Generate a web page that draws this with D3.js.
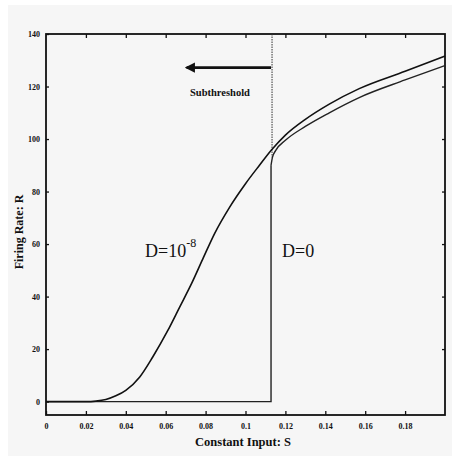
<!DOCTYPE html>
<html>
<head>
<meta charset="utf-8">
<script src="https://cdn.jsdelivr.net/npm/d3@7"></script>
<style>
  body { margin: 0; background: #fff; }
  svg { display: block; }
</style>
</head>
<body>
<svg id="chart"></svg>
<script>
// values
var xTicks = [0, 0.02, 0.04, 0.06, 0.08, 0.1, 0.12, 0.14, 0.16, 0.18];
var xTickLabels = ['0', '0.02', '0.04', '0.06', '0.08', '0.1', '0.12', '0.14', '0.16', '0.18'];
var yTicks = [0, 20, 40, 60, 80, 100, 120, 140];

// D = 1e-8 (noisy) curve
var noisyS = [0, 0.02, 0.025, 0.03, 0.035, 0.04, 0.047, 0.0535, 0.061, 0.067, 0.073, 0.079, 0.0845, 0.092, 0.1, 0.107, 0.113, 0.12, 0.13, 0.142, 0.157, 0.18, 0.2];
var noisyR = [0, 0, 0.2, 0.8, 2.2, 4.3, 9.4, 17, 27, 36, 45, 55, 64, 74, 83, 90, 95.8, 101.5, 107.5, 113.3, 119.2, 125.8, 131.6];

// D = 0 (deterministic) curve: zero below threshold, jump, then rising branch
var threshold = 0.1128;
var detS = [0.1128, 0.1135, 0.115, 0.12, 0.13, 0.142, 0.157, 0.18, 0.2];
var detR = [90, 93, 95.5, 99.5, 104.8, 110, 115.8, 122.5, 128];

var width = 452, height = 456;
var svg = d3.select('#chart').attr('width', width).attr('height', height);

svg.append('rect')
    .attr('x', 8).attr('y', 5)
    .attr('width', width - 8).attr('height', height - 5)
    .attr('fill', '#f6f6f6');

var x = d3.scaleLinear().domain([0, 0.2]).range([46, 445]);
var y = d3.scaleLinear().domain([-5.1, 140]).range([415, 34]);

var ink = '#111';
var font = '"Liberation Serif", "DejaVu Serif", serif';

function styleAxis(g) {
    g.select('.domain').remove();
    g.selectAll('.tick line').attr('stroke', ink).attr('stroke-width', 1.3);
    g.selectAll('text')
        .attr('fill', ink)
        .style('font-family', font)
        .style('font-weight', 'bold')
        .style('font-size', '8px');
}

// frame
svg.append('rect')
    .attr('x', x(0)).attr('y', y(140))
    .attr('width', x(0.2) - x(0)).attr('height', y(-5.1) - y(140))
    .attr('fill', 'none').attr('stroke', ink).attr('stroke-width', 1.8);

svg.append('g')
    .attr('transform', `translate(0, ${y(-5.1)})`)
    .call(d3.axisBottom(x).tickValues(xTicks).tickSizeInner(-4).tickSizeOuter(0).tickPadding(8)
        .tickFormat((d, i) => xTickLabels[i]))
    .call(styleAxis);

svg.append('g')
    .attr('transform', `translate(0, ${y(140)})`)
    .call(d3.axisTop(x).tickValues(xTicks.slice(1)).tickSizeInner(-4).tickSizeOuter(0).tickFormat(''))
    .call(styleAxis);

svg.append('g')
    .attr('transform', `translate(${x(0)}, 0)`)
    .call(d3.axisLeft(y).tickValues(yTicks).tickSizeInner(-3).tickSizeOuter(0).tickPadding(6))
    .call(styleAxis);

svg.append('g')
    .attr('transform', `translate(${x(0.2)}, 0)`)
    .call(d3.axisRight(y).tickValues(yTicks.slice(1, -1)).tickSizeInner(-3).tickSizeOuter(0).tickFormat(''))
    .call(styleAxis);

// dotted threshold line
svg.append('line')
    .attr('x1', x(threshold) + 1).attr('x2', x(threshold) + 1)
    .attr('y1', y(140)).attr('y2', y(93))
    .attr('stroke', '#333').attr('stroke-width', 1)
    .attr('stroke-dasharray', '1.5,1');

var line = d3.line().x(d => x(d[0])).y(d => y(d[1]));

// D=0: flat at zero, vertical jump
svg.append('path')
    .datum([[0, 0], [threshold, 0], [threshold, detR[0]]])
    .attr('d', line)
    .attr('fill', 'none').attr('stroke', '#222').attr('stroke-width', 1.4);

// D=0: rising branch
svg.append('path')
    .datum(detS.map((s, i) => [s, detR[i]]))
    .attr('d', line.curve(d3.curveMonotoneX))
    .attr('fill', 'none').attr('stroke', '#222').attr('stroke-width', 1.4);

svg.append('path')
    .datum(noisyS.map((s, i) => [s, noisyR[i]]))
    .attr('d', line.curve(d3.curveMonotoneX))
    .attr('fill', 'none').attr('stroke', ink).attr('stroke-width', 1.6);

// arrow + subthreshold
svg.append('defs').append('marker')
    .attr('id', 'head')
    .attr('viewBox', '0 0 10 10')
    .attr('refX', 8).attr('refY', 5)
    .attr('markerWidth', 4).attr('markerHeight', 4)
    .attr('orient', 'auto')
    .append('path').attr('d', 'M10,5 L0,0 L0,10 Z').attr('fill', ink);

svg.append('line')
    .attr('x1', x(threshold)).attr('x2', x(0.0705))
    .attr('y1', y(127.2)).attr('y2', y(127.2))
    .attr('stroke', ink).attr('stroke-width', 2.6)
    .attr('marker-end', 'url(#head)');

svg.append('text')
    .attr('x', 190).attr('y', 96)
    .style('font-family', font).style('font-weight', 'bold').style('font-size', '10.5px')
    .attr('fill', ink)
    .text('Subthreshold');

// curve labels
var dLabel = svg.append('text')
    .attr('x', 145).attr('y', 257)
    .style('font-family', font).style('font-size', '18px')
    .attr('fill', ink);
dLabel.append('tspan').text('D=10');
dLabel.append('tspan').attr('dy', -10).style('font-size', '12px').text('-8');

svg.append('text')
    .attr('x', 282).attr('y', 257)
    .style('font-family', font).style('font-size', '18px')
    .attr('fill', ink)
    .text('D=0');

// axis titles
svg.append('text')
    .attr('x', 243).attr('y', 446)
    .attr('text-anchor', 'middle')
    .style('font-family', font).style('font-weight', 'bold').style('font-size', '12.5px')
    .attr('fill', ink)
    .text('Constant Input: S');

svg.append('text')
    .attr('transform', 'translate(23, 232) rotate(-90)')
    .attr('text-anchor', 'middle')
    .style('font-family', font).style('font-weight', 'bold').style('font-size', '12px')
    .attr('fill', ink)
    .text('Firing Rate: R');
</script>
</body>
</html>
